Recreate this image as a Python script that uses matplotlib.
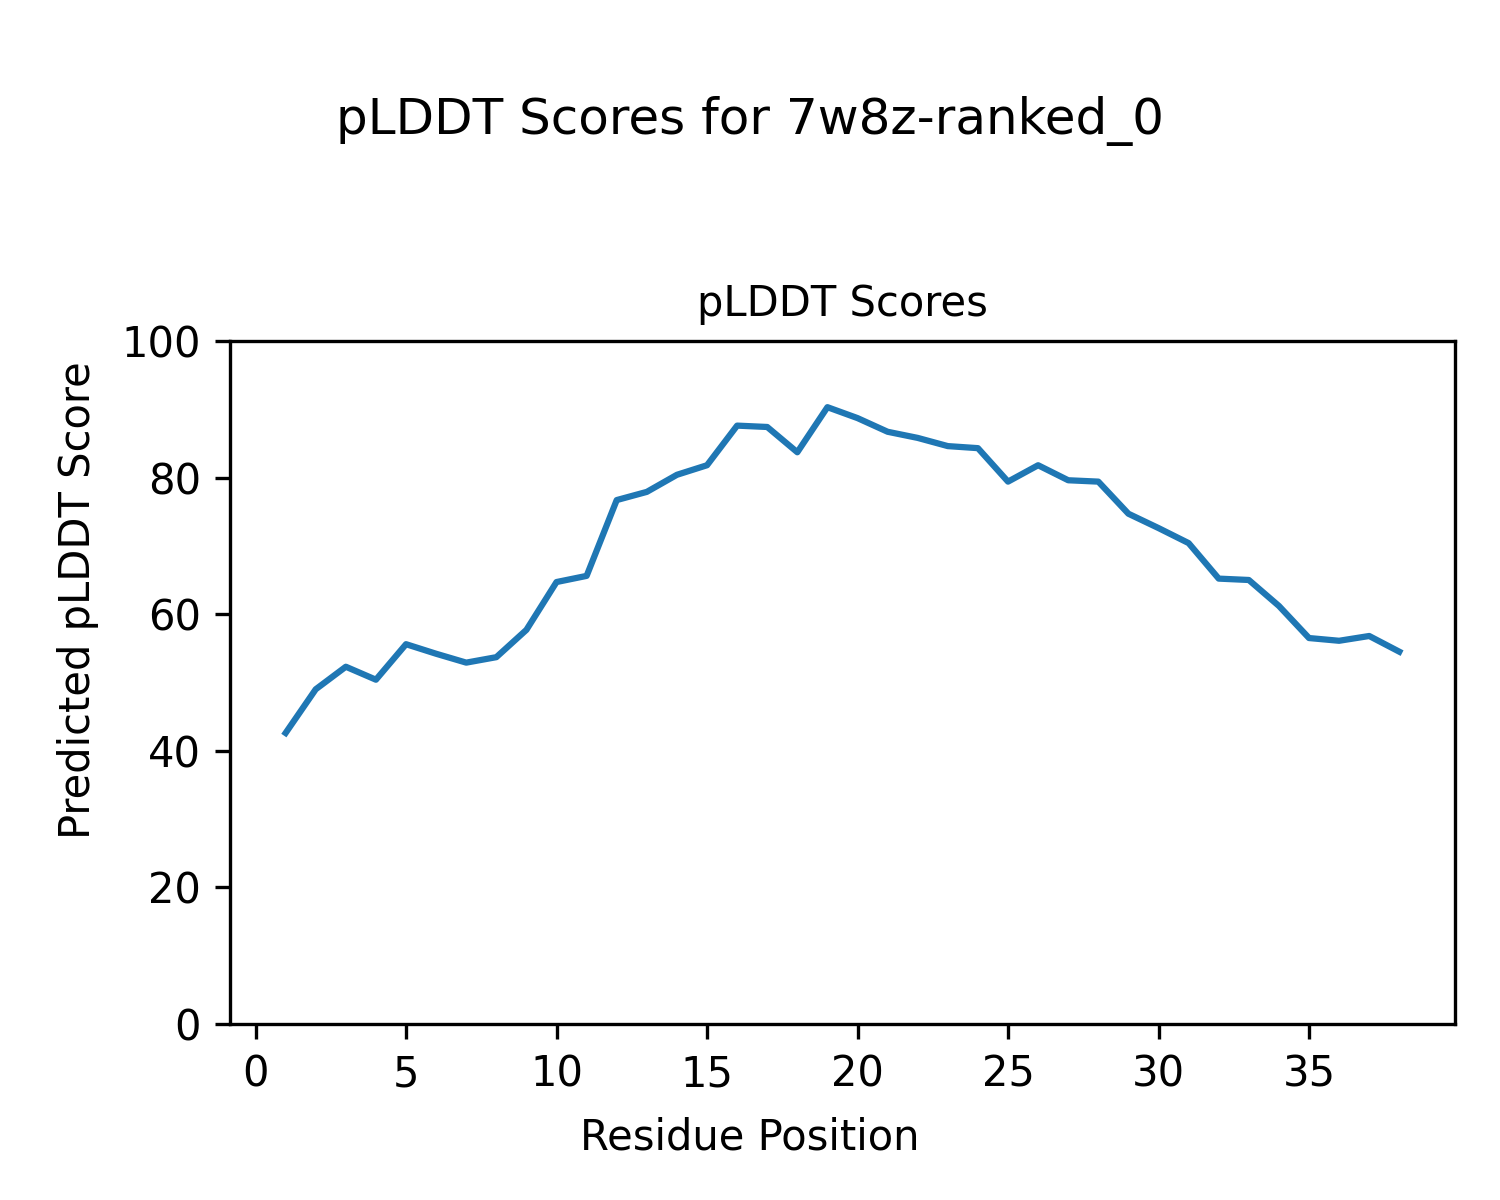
import matplotlib
matplotlib.use('Agg')
import matplotlib.pyplot as plt

# residue positions and pLDDT values
residues = list(range(1, 39))
plddt = [42.6, 49.0, 52.3, 50.4, 55.6, 54.2, 52.9, 53.7, 57.7, 64.7,
         65.6, 76.7, 77.9, 80.4, 81.8, 87.6, 87.4, 83.7, 90.3, 88.7,
         86.7, 85.8, 84.6, 84.3, 79.4, 81.8, 79.6, 79.4, 74.7, 72.6,
         70.4, 65.2, 65.0, 61.2, 56.5, 56.1, 56.8, 54.5]

fig = plt.figure(figsize=(5, 4), dpi=300)
ax = fig.add_axes([0.1533, 0.1467, 0.8167, 0.5692])

ax.plot(residues, plddt, color='#1f77b4', linewidth=1.5)
ax.set_ylim(0, 100)
ax.set_xticks([0, 5, 10, 15, 20, 25, 30, 35])
ax.set_title('pLDDT Scores', fontsize=10)

# figure-level axis labels (centred on the figure, not the axes)
fig.text(0.5, 0.052, 'Residue Position', ha='center', va='center', fontsize=10)
fig.text(0.052, 0.5, 'Predicted pLDDT Score', ha='center', va='center',
         rotation='vertical', fontsize=10)

fig.suptitle('pLDDT Scores for 7w8z-ranked_0', y=0.92)

fig.savefig('out.png', dpi=300)
